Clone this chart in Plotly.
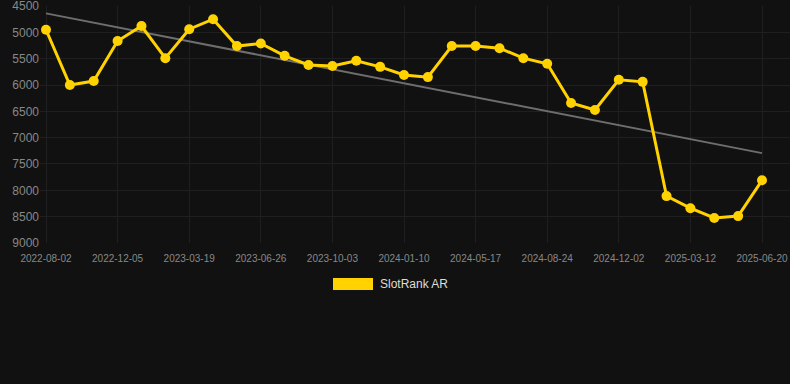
import numpy as np
import plotly.graph_objects as go

tick_labels = ["2022-08-02", "2022-12-05", "2023-03-19", "2023-06-26", "2023-10-03",
               "2024-01-10", "2024-05-17", "2024-08-24", "2024-12-02", "2025-03-12", "2025-06-20"]
rank_values = [4950, 6000, 5925, 5165, 4880, 5490, 4940, 4750, 5260, 5210, 5445,
               5620, 5640, 5540, 5655, 5810, 5850, 5260, 5260, 5300, 5490, 5595,
               6340, 6475, 5900, 5940, 8110, 8340, 8525, 8490, 7810]
y_ticks = [4500, 5000, 5500, 6000, 6500, 7000, 7500, 8000, 8500, 9000]
series_name = "SlotRank AR"

idx = np.arange(len(rank_values))
slope, intercept = np.polyfit(idx, rank_values, 1)
trend = slope * idx + intercept

fig = go.Figure()
fig.add_trace(go.Scatter(x=[idx[0], idx[-1]], y=[trend[0], trend[-1]], mode="lines",
                         line=dict(color="#6e6e6e", width=2), showlegend=False, hoverinfo="skip"))
fig.add_trace(go.Scatter(x=idx, y=rank_values, mode="lines+markers", name=series_name,
                         line=dict(color="#FFD200", width=3),
                         marker=dict(color="#FFD200", size=10), showlegend=False))

fig.add_shape(type="rect", xref="paper", yref="paper",
              x0=(333-40)/750, x1=(373-40)/750, y0=(243-290)/237, y1=(243-278)/237,
              fillcolor="#FFD200", line=dict(width=0))
fig.add_annotation(xref="paper", yref="paper", x=(378-40)/750, y=(243-284)/237,
                   text=series_name, showarrow=False, xanchor="left", yanchor="middle",
                   font=dict(color="#dddddd", size=12))

fig.update_layout(
    width=790, height=384,
    margin=dict(l=40, r=0, t=6, b=141),
    paper_bgcolor="#111111", plot_bgcolor="#111111",
    font=dict(family="Liberation Sans, Arial, sans-serif", color="#888888", size=11),
    showlegend=False,
    xaxis=dict(range=[-6/23.87, 30 + 28/23.87], tickmode="array",
               tickvals=list(idx[::3]), ticktext=tick_labels,
               showgrid=True, gridcolor="#1f1f1f", gridwidth=1, zeroline=False,
               showline=False, tickfont=dict(size=10, color="#888888"),
               ticks="outside", ticklen=6, tickcolor="rgba(0,0,0,0)",
               ticklabeloverflow="allow"),
    yaxis=dict(range=[9001, 4499], tickmode="array", tickvals=y_ticks,
               showgrid=True, gridcolor="#1f1f1f", gridwidth=1, zeroline=False,
               showline=False, tickfont=dict(size=12, color="#888888"),
               ticklabeloverflow="allow"),
)
fig.write_html("out.html", config={"displayModeBar": False},
               post_script="document.body.style.margin='0';document.body.style.background='#111111';"
                           "document.body.style.overflow='hidden';")
